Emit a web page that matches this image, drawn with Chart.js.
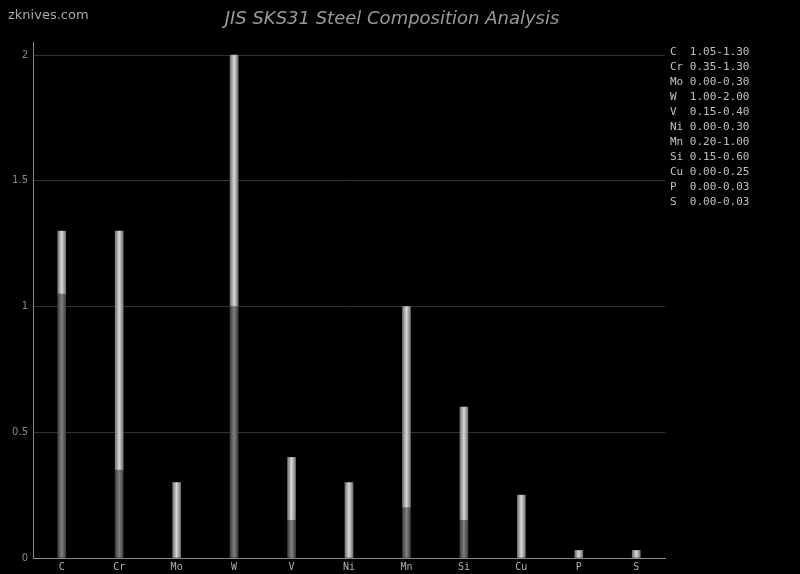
<!DOCTYPE html>
<html>
<head>
<meta charset="utf-8">
<script src="https://cdn.jsdelivr.net/npm/chart.js@4.4.1/dist/chart.umd.min.js"></script>
<style>
  html, body { margin: 0; padding: 0; background: #000; }
  #wrap { width: 800px; height: 574px; position: relative; }
</style>
</head>
<body>
<div id="wrap"><canvas id="steelChart"></canvas></div>
<script>
// JIS SKS31 - composição em % (mín / máx)
const elements = ['C', 'Cr', 'Mo', 'W', 'V', 'Ni', 'Mn', 'Si', 'Cu', 'P', 'S'];
const minValues = [1.05, 0.35, 0.0, 1.0, 0.15, 0.0, 0.2, 0.15, 0.0, 0.0, 0.0];
const maxValues = [1.3, 1.3, 0.3, 2.0, 0.4, 0.3, 1.0, 0.6, 0.25, 0.03, 0.03];
const rangeLabels = [
  'C  1.05-1.30', 'Cr 0.35-1.30', 'Mo 0.00-0.30', 'W  1.00-2.00',
  'V  0.15-0.40', 'Ni 0.00-0.30', 'Mn 0.20-1.00', 'Si 0.15-0.60',
  'Cu 0.00-0.25', 'P  0.00-0.03', 'S  0.00-0.03',
];
const yTicks = [0, 0.5, 1, 1.5, 2];

const chartTitle = 'JIS SKS31 Steel Composition Analysis';
const siteName = 'zknives.com';

/**
 * Gradiente horizontal (efeito cilindro) para cada barra.
 */
function barGradient(edge, center) {
  return (ctx) => {
    const chart = ctx.chart;
    const xScale = chart.scales.x;
    if (!xScale || ctx.dataIndex === undefined) return center;
    const x = xScale.getPixelForValue(ctx.dataIndex);
    if (!Number.isFinite(x)) return center;
    const g = chart.ctx.createLinearGradient(x - 4, 0, x + 4, 0);
    g.addColorStop(0, edge);
    g.addColorStop(0.5, center);
    g.addColorStop(1, edge);
    return g;
  };
}

// textos extras: site, título e lista de faixas
const extrasPlugin = {
  id: 'extras',
  afterDraw(chart) {
    const c = chart.ctx;
    c.save();
    c.textBaseline = 'middle';

    c.fillStyle = '#a8a8a8';
    c.font = '13px "DejaVu Sans"';
    c.textAlign = 'left';
    c.fillText(siteName, 8, 16);

    c.fillStyle = '#9a9a9a';
    c.font = 'italic 18px "DejaVu Sans"';
    c.textAlign = 'center';
    c.fillText(chartTitle, 392, 19);

    c.fillStyle = '#c0c0c0';
    c.font = '11px "DejaVu Sans Mono"';
    c.textAlign = 'left';
    rangeLabels.forEach((txt, i) => {
      c.fillText(txt, 670, 52.5 + i * 15);
    });
    c.restore();
  },
};

new Chart(document.getElementById('steelChart').getContext('2d'), {
  type: 'bar',
  data: {
    labels: elements,
    datasets: [
      {
        label: 'min',
        data: minValues,
        backgroundColor: barGradient('#3e3e3e', '#808080'),
        barThickness: 8,
      },
      {
        label: 'range',
        data: minValues.map((v, i) => [v, maxValues[i]]),
        backgroundColor: barGradient('#767676', '#d8d8d8'),
        barThickness: 8,
      },
    ],
  },
  options: {
    responsive: true,
    maintainAspectRatio: false,
    animation: false,
    layout: { padding: { left: 0, right: 135, top: 42, bottom: 0 } },
    plugins: {
      legend: { display: false },
      tooltip: { enabled: false },
      title: { display: false },
    },
    scales: {
      x: {
        stacked: true,
        grid: { display: false, drawTicks: false },
        border: { color: '#8a8a8a', width: 1 },
        ticks: {
          color: '#b0b0b0',
          font: { family: 'DejaVu Sans Mono', size: 10 },
          padding: 3,
          autoSkip: false,
          maxRotation: 0,
        },
        afterFit: (scale) => { scale.height = 16; },
      },
      y: {
        stacked: false,
        min: 0,
        max: 2.052,
        afterBuildTicks: (scale) => {
          scale.ticks = yTicks.map((v) => ({ value: v }));
        },
        grid: { color: '#333333', drawTicks: false },
        border: { color: '#8a8a8a', width: 1 },
        ticks: {
          color: '#8a8a8a',
          font: { family: 'DejaVu Sans', size: 10 },
          padding: 5,
          callback: (value) => String(value),
        },
        afterFit: (scale) => { scale.width = 33; },
      },
    },
  },
  plugins: [extrasPlugin],
});
</script>
</body>
</html>
